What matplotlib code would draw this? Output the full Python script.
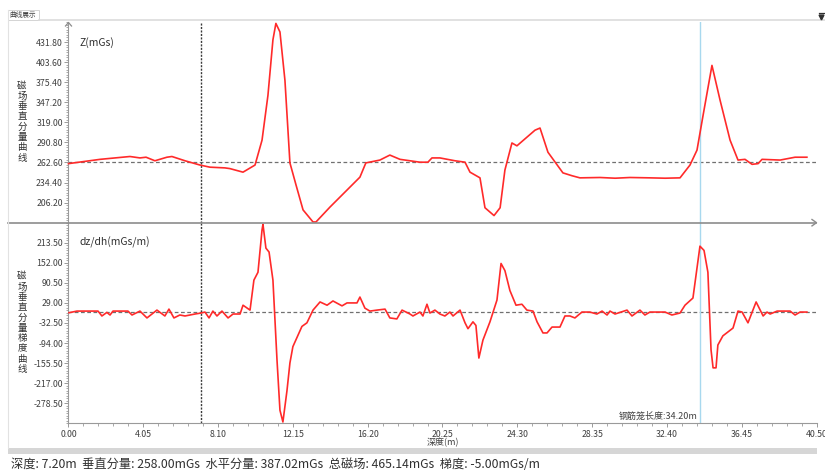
import numpy as np
import matplotlib
matplotlib.use('Agg')
import matplotlib.pyplot as plt
from matplotlib.lines import Line2D
from matplotlib.patches import Rectangle
from matplotlib.ticker import FixedLocator, AutoMinorLocator, FormatStrFormatter

plt.rcParams['font.family'] = ['Noto Sans CJK SC', 'DejaVu Sans']

# ---- survey data -------------------------------------------------------
z_depth = [0.00, 1.71, 3.33, 3.87, 4.20, 4.68, 5.33, 5.60, 6.31, 7.12, 7.66,
           8.47, 8.74, 9.45, 10.10, 10.48, 10.80, 11.07, 11.23, 11.45, 11.72,
           11.99, 12.32, 12.70, 13.24, 13.40, 14.16, 14.97, 15.78, 16.10,
           16.86, 17.40, 17.95, 19.03, 19.46, 19.68, 20.11, 20.93, 21.47,
           21.74, 22.28, 22.55, 23.04, 23.37, 23.63, 24.01, 24.28, 25.26,
           25.53, 25.96, 26.77, 27.26, 27.69, 28.78, 29.60, 30.40, 31.48,
           32.30, 33.11, 33.65, 34.03, 34.36, 34.84, 35.28, 35.82, 36.25,
           36.63, 37.01, 37.34, 37.55, 38.53, 39.34, 39.88, 39.98]
z_value = [261, 267, 271, 269, 270, 265, 270, 271, 265, 259, 256,
           255, 254, 249, 259, 294, 357, 435, 458, 446, 378,
           262, 231, 196, 179, 179, 200, 221, 242, 262,
           266, 273, 267, 263, 263, 269, 269, 265, 263,
           249, 241, 199, 188, 199, 252, 290, 286, 308,
           311, 277, 248, 244, 241, 241.5, 240.5, 241.5, 241,
           240.5, 241, 259, 280, 329, 399, 350, 294, 266,
           267, 260, 261, 267, 266, 270, 270, 270]

g_depth = [0.03, 0.46, 1.60, 1.81, 2.08, 2.25, 2.41, 3.22, 3.44, 3.87, 4.25,
           4.79, 5.22, 5.44, 5.71, 6.03, 6.31, 6.85, 7.17, 7.39, 7.61, 7.82,
           8.04, 8.31, 8.64, 8.91, 9.29, 9.45, 9.83, 10.04, 10.26, 10.48,
           10.53, 10.69, 10.86, 11.07, 11.29, 11.45, 11.61, 11.83, 11.99,
           12.15, 12.64, 12.91, 13.24, 13.62, 14.00, 14.32, 14.81, 15.08,
           15.62, 15.78, 16.05, 16.32, 16.70, 17.14, 17.40, 17.78, 18.06,
           18.49, 18.65, 19.03, 19.19, 19.41, 19.57, 19.84, 20.11, 20.38,
           20.65, 20.82, 21.20, 21.47, 21.63, 21.90, 22.06, 22.22, 22.44,
           22.82, 23.20, 23.42, 23.63, 23.90, 24.23, 24.55, 24.82, 25.15,
           25.37, 25.69, 25.91, 26.18, 26.61, 26.88, 27.15, 27.42, 27.80,
           28.23, 28.61, 28.89, 29.16, 29.32, 29.59, 30.24, 30.51, 30.94,
           31.21, 31.48, 32.30, 32.67, 33.11, 33.38, 33.81, 34.19, 34.41,
           34.62, 34.79, 34.90, 35.06, 35.16, 35.43, 35.98, 36.25, 36.47,
           36.79, 37.23, 37.61, 37.82, 37.99, 38.37, 39.07, 39.34, 39.61,
           39.98]
g_value = [-1, 4, 4, -11, 0, -8, 4, 4, -8, 4, -17,
           7, -11, 10, -17, -8, -11, -5, -2, 1, -17, 4,
           -11, 4, -17, -5, -5, 22, 7, 99, 123, 253,
           270, 197, 185, 99, -146, -300, -336, -240, -155,
           -105, -43, -32, 7, 32, 22, 35, 20, 29,
           29, 47, 13, 4, 7, 10, -17, -20, 7,
           -5, -11, 1, -11, 25, -2, 7, -5, -11,
           1, -11, 7, -32, -50, -29, -40, -140, -85,
           -29, 38, 150, 128, 67, 22, 25, 7, 4,
           -29, -63, -63, -45, -45, -11, -11, -17, 1,
           1, -5, 4, -8, 4, -5, 7, -11, 7,
           -8, 1, 1, -8, -2, 22, 44, 203, 190,
           123, -115, -170, -170, -100, -72, -48, 4, 1,
           -32, 32, -11, 1, -5, 4, 4, -8, 1,
           1]

x_ticks = [0.00, 4.05, 8.10, 12.15, 16.20, 20.25, 24.30, 28.35, 32.40, 36.45, 40.50]
z_ticks = [206.20, 234.40, 262.60, 290.80, 319.00, 347.20, 375.40, 403.60, 431.80]
g_ticks = [-278.50, -217.00, -155.50, -94.00, -32.50, 29.00, 90.50, 152.00, 213.50]
z_lim = (178.0, 460.0)
g_lim = (-340.0, 275.0)
z_base = 262.6
g_base = 0.0
cursor_depth = 7.20
cage_length = 34.20

z_title = '磁场垂直分量曲线'
g_title = '磁场垂直分量梯度曲线'
status = ('深度: 7.20m  垂直分量: 258.00mGs  水平分量: 387.02mGs  '
          '总磁场: 465.14mGs  梯度: -5.00mGs/m')

RED = '#ff2a2a'
AXIS = '#9a9a9a'
TXT = '#404040'

fig = plt.figure(figsize=(8.25, 4.71), dpi=100)
fig.patch.set_facecolor('white')

ax_z = fig.add_axes([0.0830, 0.5272, 0.9067, 0.4261])
ax_g = fig.add_axes([0.0830, 0.1013, 0.9067, 0.4259])


def fx(px):
    return px / 825


def fy(py):
    return 1 - py / 471


def style_axis(ax, yticks, ylim):
    ax.set_xlim(0, 40.5)
    ax.set_ylim(*ylim)
    for s in ('top', 'right'):
        ax.spines[s].set_visible(False)
    ax.spines['left'].set_color(AXIS)
    ax.spines['left'].set_linewidth(0.8)
    ax.spines['bottom'].set_color(AXIS)
    ax.yaxis.set_major_locator(FixedLocator(yticks))
    ax.yaxis.set_major_formatter(FormatStrFormatter('%.2f'))
    ax.yaxis.set_minor_locator(AutoMinorLocator(8))
    ax.tick_params(axis='y', which='major', length=3, width=0.7, color=AXIS,
                   labelsize=6.3, labelcolor=TXT, pad=1)
    ax.tick_params(axis='y', which='minor', length=1.5, width=0.6, color=AXIS)
    ax.patch.set_alpha(0)


style_axis(ax_z, z_ticks, z_lim)
style_axis(ax_g, g_ticks, g_lim)

# top panel: no x ticks, its x axis is drawn as a long divider below
ax_z.spines['bottom'].set_visible(False)
ax_z.tick_params(axis='x', which='both', bottom=False, labelbottom=False)

ax_g.spines['bottom'].set_linewidth(0.8)
ax_g.xaxis.set_major_locator(FixedLocator(x_ticks))
ax_g.xaxis.set_major_formatter(FormatStrFormatter('%.2f'))
ax_g.xaxis.set_minor_locator(AutoMinorLocator(5))
ax_g.tick_params(axis='x', which='major', length=3, width=0.7, color=AXIS,
                 labelsize=6.3, labelcolor=TXT, pad=2)
ax_g.tick_params(axis='x', which='minor', length=2, width=0.6, color=AXIS)
ax_g.set_xlabel('深度(m)', fontsize=6.5, color=TXT)
ax_g.xaxis.set_label_coords(0.5, -0.072)

# curves and reference lines
ax_z.axhline(z_base, color='#707070', lw=0.9, ls=(0, (3, 2)), zorder=1)
ax_g.axhline(g_base, color='#707070', lw=0.9, ls=(0, (3, 2)), zorder=1)
ax_z.plot(z_depth, z_value, color=RED, lw=1.2, zorder=3, clip_on=False)
ax_g.plot(g_depth, g_value, color=RED, lw=1.2, zorder=3, clip_on=False)

for ax in (ax_z, ax_g):
    ax.axvline(cursor_depth, color='#3a3a3a', lw=1.0, ls=(0, (1.5, 1)), zorder=2)
    ax.axvline(cage_length, color='#a8d8ee', lw=1.0, zorder=2)

ax_z.text(0.0154, 0.90, 'Z(mGs)', transform=ax_z.transAxes, fontsize=7.5,
          color='#303030', va='center', ha='left')
ax_g.text(0.0154, 0.90, 'dz/dh(mGs/m)', transform=ax_g.transAxes, fontsize=7.5,
          color='#303030', va='center', ha='left')
ax_g.text(cage_length - 0.15, g_lim[0] + 8, '钢筋笼长度:%.2fm' % cage_length,
          fontsize=6.5, color=TXT, ha='right', va='bottom')


# vertical panel titles, one character per row
def vertical_title(label, center_py, step=10.3):
    top = center_py - step * (len(label) - 1) / 2
    for i, ch in enumerate(label):
        fig.text(fx(22), fy(top + i * step), ch, fontsize=6.8,
                 color='#303030', ha='center', va='center')


vertical_title(z_title, 122)
vertical_title(g_title, 323)

# divider between the two panels with arrow at the right end
fig.add_artist(Line2D([fx(8), fx(816)], [fy(222.7), fy(222.7)],
                      color='#8c8c8c', lw=1.2))
fig.add_artist(Line2D([fx(812), fx(816.5), fx(812)],
                      [fy(219.5), fy(222.7), fy(225.9)],
                      color='#8c8c8c', lw=1.0))
# arrow head on the top of the y axis
fig.add_artist(Line2D([fx(65.5), fx(68.5), fx(71.5)],
                      [fy(26), fy(22.5), fy(26)], color='#8c8c8c', lw=0.9))

# window frame: tab header, left border, status bar
fig.add_artist(Line2D([fx(7.5), fx(7.5)], [fy(10), fy(448)],
                      color='#e2e2e2', lw=0.8))
fig.add_artist(Line2D([fx(39), fx(825)], [fy(20), fy(20)],
                      color='#dcdcdc', lw=1.2))
fig.add_artist(Rectangle((fx(7.5), fy(20)), fx(31.5), fy(10) - fy(20),
                         transform=fig.transFigure, facecolor='white',
                         edgecolor='#d4d4d4', lw=0.7))
fig.text(fx(23), fy(15), '曲线展示', fontsize=4.8, color='#404040',
         ha='center', va='center')
fig.add_artist(Rectangle((fx(8), fy(454)), fx(809), fy(448) - fy(454),
                         transform=fig.transFigure, facecolor='#d6d6d6',
                         edgecolor='none'))
fig.text(fx(11), fy(464), status, fontsize=8.8, color='#303030',
         ha='left', va='center')
# drop-down button in the tab bar
fig.add_artist(Line2D([fx(818.5), fx(823.5)], [fy(13), fy(13)],
                      color='#303030', lw=0.9))
fig.add_artist(Line2D([fx(821)], [fy(16.5)], marker='v', markersize=3.5,
                      color='#303030', lw=0))

fig.savefig('out.png', dpi=100, facecolor='white')
